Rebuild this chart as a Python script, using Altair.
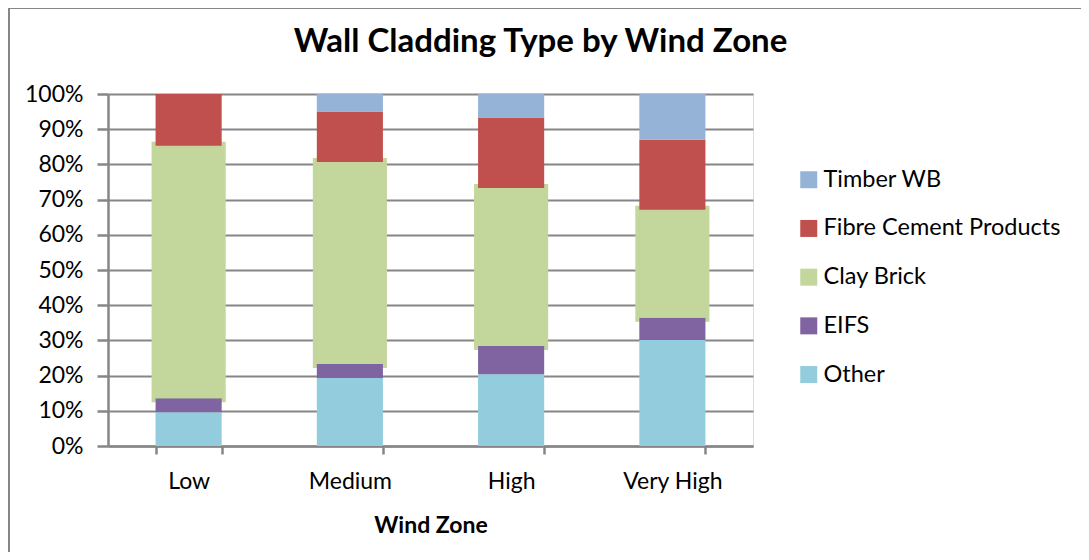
import altair as alt
import pandas as pd

zones = ["Low", "Medium", "High", "Very High"]
types = ["Other", "EIFS", "Clay Brick", "Fibre Cement Products", "Timber WB"]
other = [9.6, 19.3, 20.4, 30.1]
eifs = [4.0, 4.0, 8.0, 6.3]
clay = [71.7, 57.4, 44.9, 30.7]
fibre = [14.7, 14.3, 20.0, 19.9]
timber = [0.0, 5.0, 6.7, 13.0]

legend_order = ["Timber WB", "Fibre Cement Products", "Clay Brick", "EIFS", "Other"]
colors = ["#95B3D7", "#C0504D", "#C3D69B", "#8064A2", "#93CDDD"]

series = [other, eifs, clay, fibre, timber]
rows = []
for ti, (t, vals) in enumerate(zip(types, series)):
    for z, v in zip(zones, vals):
        rows.append({"Zone": z, "Type": t, "Value": v, "ord": ti})
df = pd.DataFrame(rows)

FONT = "Lato"
GRID = "#868686"

base = alt.Chart(df).transform_stack(
    stack="Value", groupby=["Zone"], sort=[alt.SortField("ord", order="ascending")], as_=["y0", "y1"]
)

xenc = alt.X(
    "Zone:N", sort=zones, title="Wind Zone",
    scale=alt.Scale(paddingInner=0.59, paddingOuter=0.295),
    axis=alt.Axis(
        labelAngle=0, labelFontSize=23, labelFont=FONT, labelColor="black",
        titleFontSize=23, titleFont=FONT, titleFontWeight="bold", titleColor="black",
        titlePadding=21, labelPadding=16,
        tickBand="extent", tickSize=8, tickColor=GRID, tickWidth=2.5,
        domainColor=GRID, domainWidth=2.5, grid=False,
    ),
)
yenc = alt.Y(
    "y0:Q", title=None,
    scale=alt.Scale(domain=[0, 100], nice=False),
    axis=alt.Axis(
        values=list(range(0, 101, 10)), labelExpr="datum.value + '%'",
        labelFontSize=23, labelFont=FONT, labelColor="black", labelPadding=14,
        tickSize=11, tickColor=GRID, tickWidth=2.5,
        domainColor=GRID, domainWidth=2.5,
        grid=True, gridColor=GRID, gridWidth=2.2,
    ),
)

clay_layer = base.transform_filter(alt.datum.Type == "Clay Brick").mark_bar(
    fill="#C3D69B", stroke="#C3D69B", strokeWidth=8
).encode(x=xenc, y=yenc, y2="y1:Q")

bars = base.mark_bar().encode(
    x=xenc, y=yenc, y2="y1:Q",
    color=alt.Color(
        "Type:N",
        scale=alt.Scale(domain=legend_order, range=colors),
        legend=alt.Legend(
            title=None, orient="none", legendX=689, legendY=74,
            symbolType="square", symbolSize=289, symbolStrokeWidth=0,
            labelFontSize=23.5, labelFont=FONT, labelColor="black", labelLimit=400,
            labelOffset=3, rowPadding=23.7, padding=0,
        ),
    ),
)

border_top = alt.Chart(df).mark_rule(color=GRID, strokeWidth=2).encode(
    x=alt.value(-99), x2=alt.value(980), y=alt.value(-86)
)
border_left = alt.Chart(df).mark_rule(color=GRID, strokeWidth=2).encode(
    x=alt.value(-99), y=alt.value(-86), y2=alt.value(470)
)

chart = alt.layer(clay_layer, bars, border_top, border_left).properties(
    width=645, height=352,
    autosize=alt.AutoSizeParams(type="none"),
    padding={"left": 100, "top": 86, "right": 328, "bottom": 106},
    title=alt.TitleParams(
        "Wall Cladding Type by Wind Zone", font=FONT, fontSize=33, fontWeight="bold",
        color="black", anchor="middle", dx=110, offset=-52, frame="group",
    ),
).configure_view(stroke=None).configure(background="white")

chart.save("out.html", embed_options={"renderer": "svg", "actions": False})
